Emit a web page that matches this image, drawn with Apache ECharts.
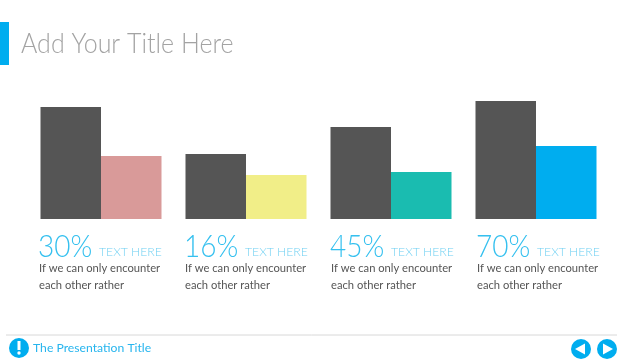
<!DOCTYPE html>
<html>
<head>
<meta charset="utf-8">
<title>Add Your Title Here</title>
<script src="https://cdn.jsdelivr.net/npm/echarts@6/dist/echarts.min.js"></script>
<style>
html,body{margin:0;padding:0;background:#fff}
#chart{width:635px;height:361px}
</style>
</head>
<body>
<div id="chart"></div>
<script>
var groups=["A","B","C","D"];
var darkValues=[112,65,92,118];
var colorValues=[63,44,47,73];
var percentLabels=["30%","16%","45%","70%"];
var captionLabel="TEXT HERE";
var bodyLines=["If we can only encounter","each other rather"];
var barColors=["#d99a99","#f1ee88","#1abcb0","#00adef"];
var labelX=[38,184,330,476];

var lightFont="Lato, 'Open Sans', sans-serif";
var chart=echarts.init(document.getElementById("chart"),null,{renderer:"canvas"});

var graphics=[
  {type:"rect",shape:{x:0,y:22,width:9,height:43},style:{fill:"#00adef"}},
  {type:"text",x:21,y:44,scaleY:1.08,style:{text:"Add Your Title Here",font:"300 25px "+lightFont,fill:"#a3a3a3",textVerticalAlign:"middle"}},
  {type:"line",shape:{x1:6,y1:335,x2:617,y2:335},style:{stroke:"#d8d8d8",lineWidth:1}},
  {type:"circle",shape:{cx:19,cy:348,r:10},style:{fill:"#00adef"}},
  {type:"rect",shape:{x:17.5,y:341,width:3,height:9},style:{fill:"#fff"}},
  {type:"circle",shape:{cx:19,cy:353,r:1.7},style:{fill:"#fff"}},
  {type:"text",x:33,y:348,style:{text:"The Presentation Title",font:"400 12.2px "+lightFont,fill:"#27b5ee",textVerticalAlign:"middle"}},
  {type:"circle",shape:{cx:581,cy:349,r:10},style:{fill:"#00adef"}},
  {type:"polygon",shape:{points:[[575,349],[585,343.5],[585,354.5]]},style:{fill:"#fff"}},
  {type:"circle",shape:{cx:607,cy:349,r:10},style:{fill:"#00adef"}},
  {type:"polygon",shape:{points:[[613,349],[603,343.5],[603,354.5]]},style:{fill:"#fff"}}
];
groups.forEach(function(g,i){
  graphics.push({type:"text",x:labelX[i],y:247,scaleY:1.1,style:{text:percentLabels[i],font:"300 28px "+lightFont,fill:"#35c0ef",textVerticalAlign:"middle"}});
  graphics.push({type:"text",x:labelX[i]+61,y:252,style:{text:captionLabel,font:"300 12.2px "+lightFont,fill:"#70d0f2",textVerticalAlign:"middle"}});
  bodyLines.forEach(function(line,j){
    graphics.push({type:"text",x:labelX[i]+1,y:268+j*17,style:{text:line,font:"400 11.2px "+lightFont,fill:"#555",textVerticalAlign:"middle"}});
  });
});

chart.setOption({
  animation:false,
  grid:{left:28.5,width:580,top:99,height:120},
  xAxis:{type:"category",data:groups,show:false},
  yAxis:{type:"value",min:0,max:120,show:false},
  series:[
    {type:"bar",data:darkValues,barWidth:60.5,barGap:0,itemStyle:{color:"#555555"}},
    {type:"bar",data:colorValues,barWidth:60.5,itemStyle:{color:function(p){return barColors[p.dataIndex];}}}
  ],
  graphic:graphics
});
</script>
</body>
</html>
